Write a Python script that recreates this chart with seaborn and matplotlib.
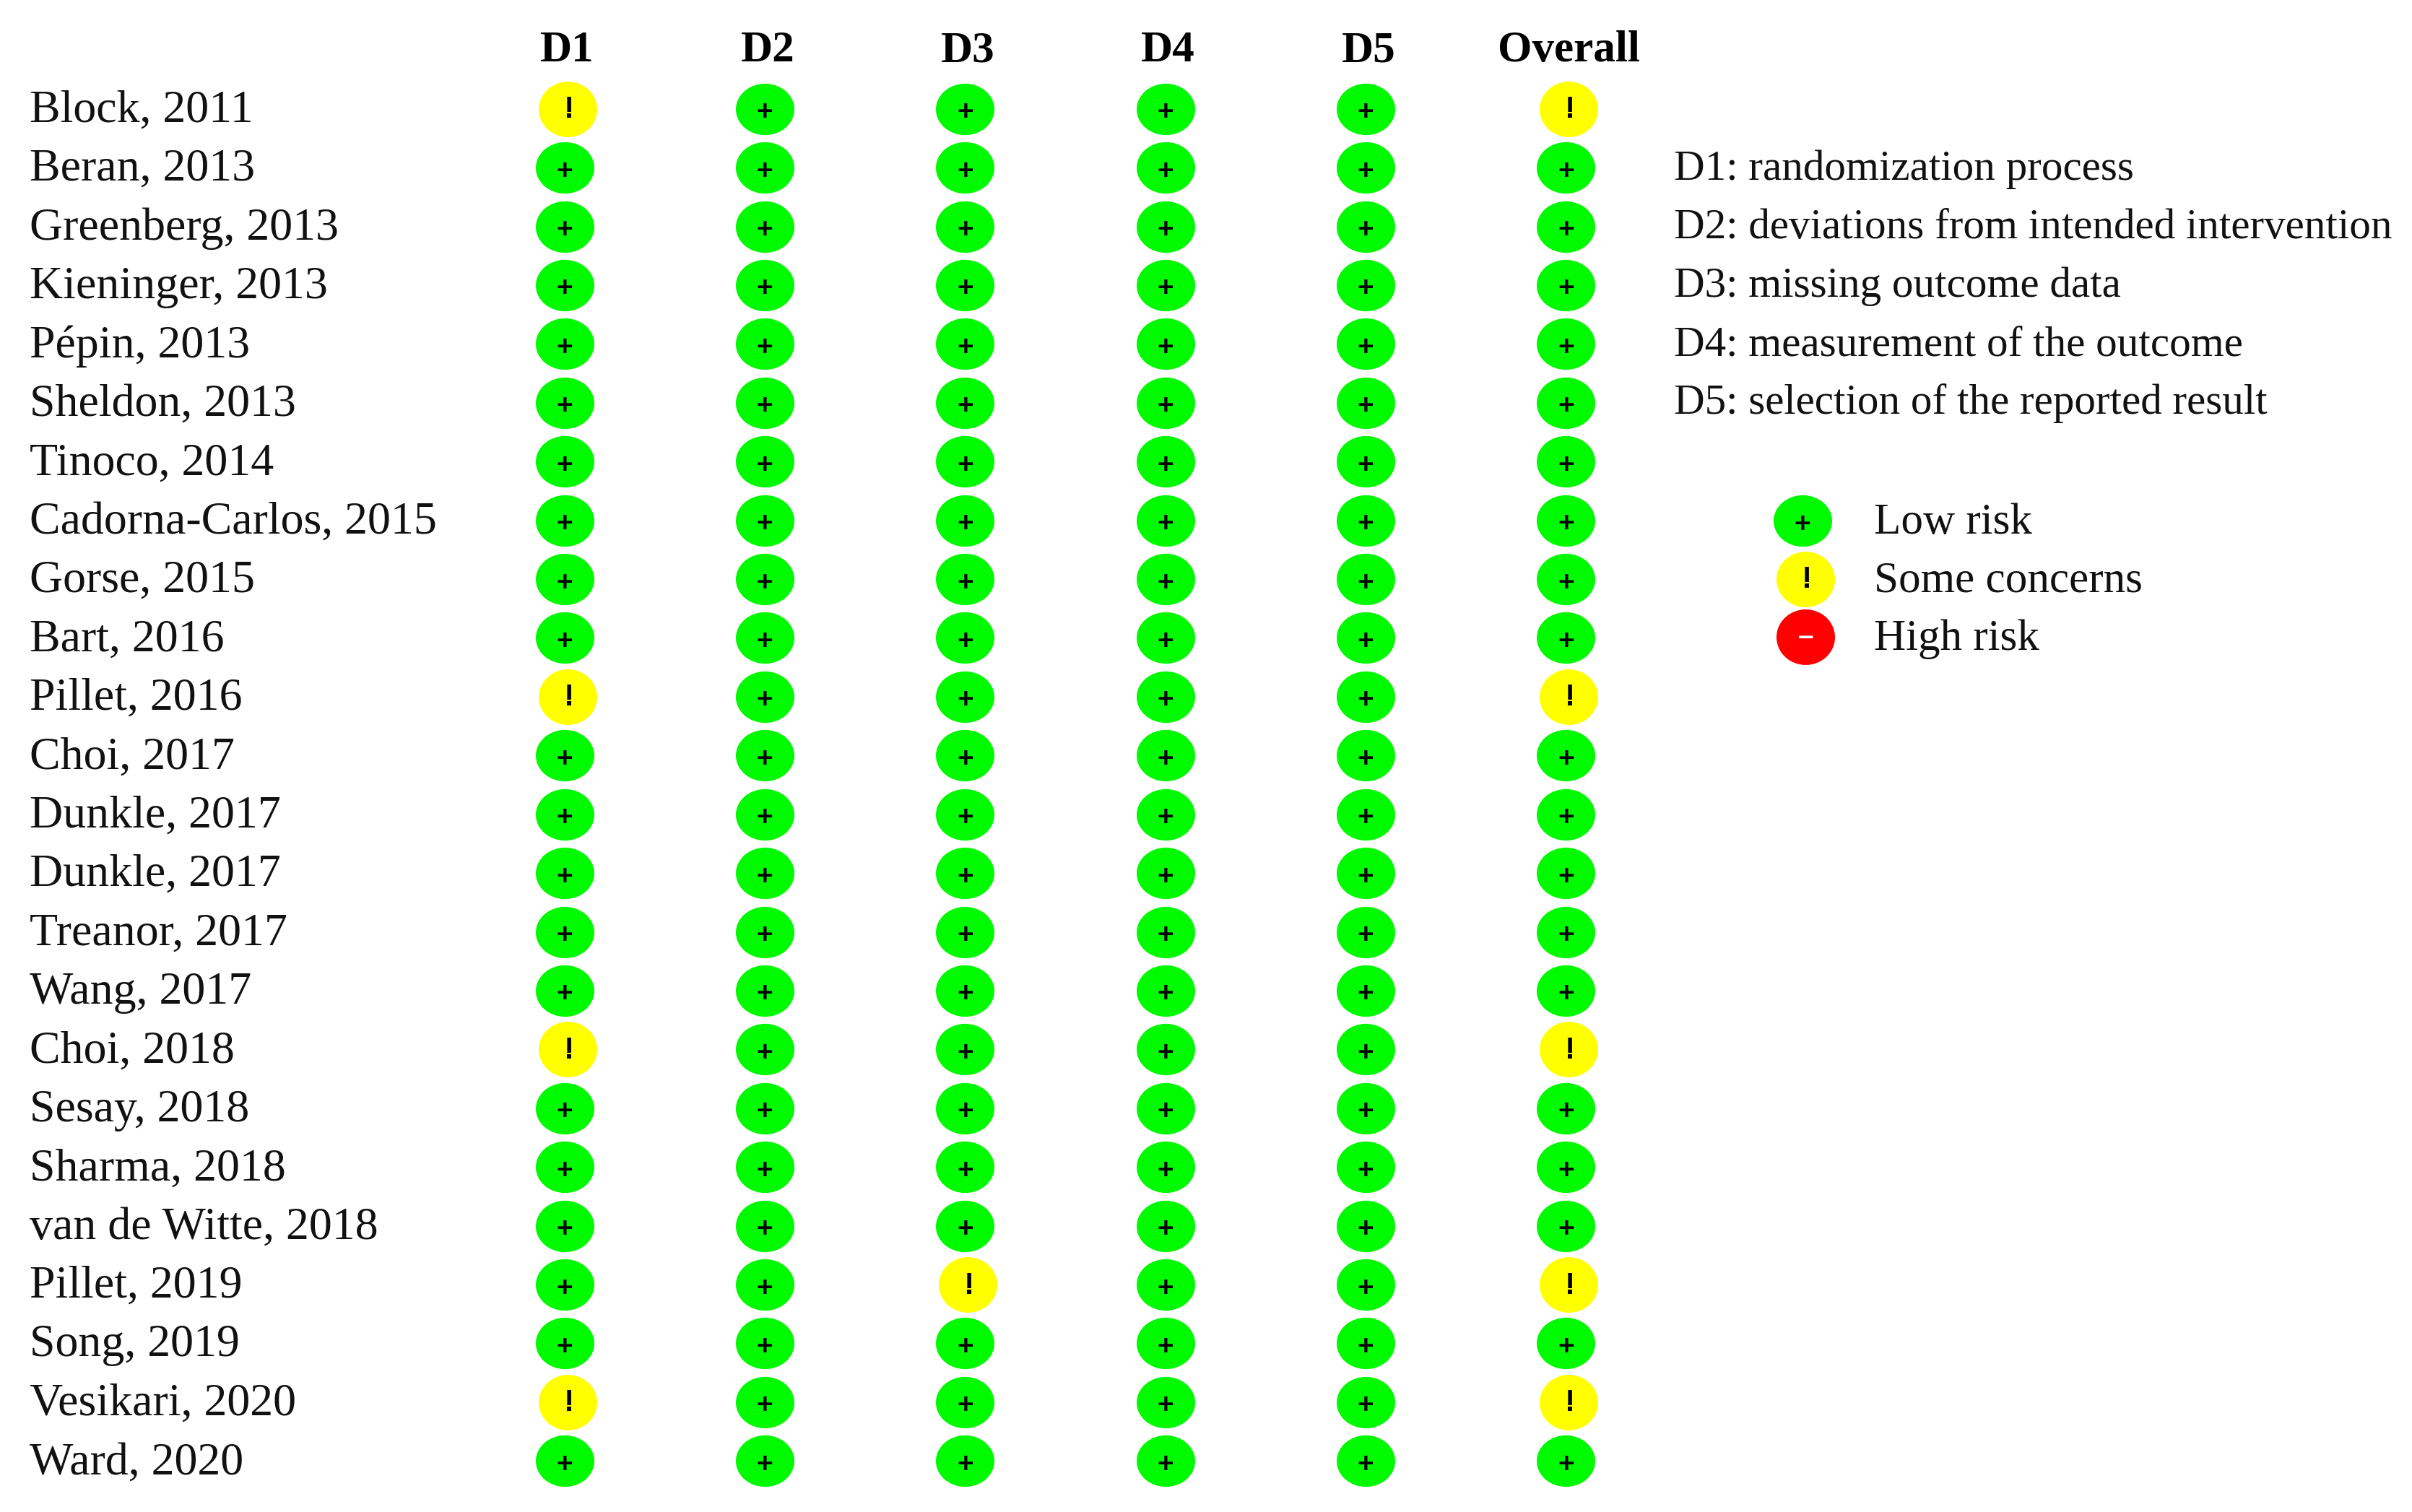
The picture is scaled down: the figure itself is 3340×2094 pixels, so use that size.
import numpy as np
import pandas as pd
import matplotlib
matplotlib.use("Agg")
import matplotlib.pyplot as plt
import seaborn as sns
from matplotlib.path import Path
from matplotlib.transforms import Affine2D

studies = ["Block, 2011", "Beran, 2013", "Greenberg, 2013", "Kieninger, 2013", "Pépin, 2013",
           "Sheldon, 2013", "Tinoco, 2014", "Cadorna-Carlos, 2015", "Gorse, 2015", "Bart, 2016",
           "Pillet, 2016", "Choi, 2017", "Dunkle, 2017", "Dunkle, 2017", "Treanor, 2017",
           "Wang, 2017", "Choi, 2018", "Sesay, 2018", "Sharma, 2018", "van de Witte, 2018",
           "Pillet, 2019", "Song, 2019", "Vesikari, 2020", "Ward, 2020"]
domains = ["D1", "D2", "D3", "D4", "D5", "Overall"]

L, S = "Low risk", "Some concerns"
d1 = [S, L, L, L, L, L, L, L, L, L, S, L, L, L, L, L, S, L, L, L, L, L, S, L]
d2 = [L] * 24
d3 = [L, L, L, L, L, L, L, L, L, L, L, L, L, L, L, L, L, L, L, L, S, L, L, L]
d4 = [L] * 24
d5 = [L] * 24
overall = [S, L, L, L, L, L, L, L, L, L, S, L, L, L, L, L, S, L, L, L, S, L, S, L]

key_lines = ["D1: randomization process", "D2: deviations from intended intervention",
             "D3: missing outcome data", "D4: measurement of the outcome",
             "D5: selection of the reported result"]
risk_levels = ["Low risk", "Some concerns", "High risk"]
risk_colors = {"Low risk": "#00FA00", "Some concerns": "#FFFF00", "High risk": "#FF0000"}
risk_signs = {"Low risk": "+", "Some concerns": "!", "High risk": "–"}
sign_colors = {"Low risk": "black", "Some concerns": "black", "High risk": "white"}
# (width scale, height scale, x shift in px) - the source picture was stretched a bit
risk_shape = {"Low risk": (1.0, 0.88, 0), "Some concerns": (1.0, 0.95, 4), "High risk": (1.0, 0.95, 4)}
# sign font size, and sign shift from the dot centre in px
sign_style = {"Low risk": (14, 0, -5.5), "Some concerns": (15.5, 2, -1.5), "High risk": (14, 1, -1)}

W, H = 3340, 2094
sns.set_theme(style="white")
plt.rcParams["font.family"] = ["Liberation Serif", "DejaVu Serif"]
PT = 72 / 200  # points per pixel

df = pd.DataFrame({"study": np.arange(len(studies)), "D1": d1, "D2": d2, "D3": d3,
                   "D4": d4, "D5": d5, "Overall": overall})
df = df.melt(id_vars="study", var_name="domain", value_name="risk")
df["col"] = df["domain"].map(domains.index)


def ellipse(wx, hy):
    verts = Path.unit_circle().vertices * [wx, hy]
    return Path(verts, Path.unit_circle().codes)


def draw_dots(ax, data, x, y, s=850):
    for risk, g in data.groupby("risk"):
        wx, hy, dx = risk_shape[risk]
        size, sx, sy = sign_style[risk]
        shift = ax.transData + Affine2D().translate(dx, 0)
        sns.scatterplot(data=g, x=x, y=y, ax=ax, color=risk_colors[risk], marker=ellipse(wx, hy),
                        s=s, linewidth=0, legend=False, transform=shift)
        for _, row in g.iterrows():
            ax.annotate(risk_signs[risk], (row[x], row[y]), xytext=((dx + sx) * PT, sy * PT),
                        textcoords="offset points", ha="center", va="center", fontsize=size,
                        color=sign_colors[risk], fontweight="bold", family="Liberation Sans")


fig = plt.figure(figsize=(W / 200, H / 200), dpi=200)
fig.patch.set_facecolor("white")

# main grid
ax = fig.add_axes([643 / W, 1 - 2064 / H, (2307 - 643) / W, (2064 - 110) / H])
draw_dots(ax, df, "col", "study")
ax.set_xlim(-0.5, 5.5)
ax.set_ylim(23.5, -0.5)
ax.set_xlabel("")
ax.set_ylabel("")
ax.xaxis.tick_top()
ax.set_xticks(range(len(domains)), domains, fontweight="bold", fontsize=22, color="black")
ax.set_yticks(range(len(studies)), studies, ha="left", fontsize=23, color="#111111")
ax.tick_params(axis="x", length=0, pad=12 * PT)
ax.tick_params(axis="y", length=0, pad=(643 - 41) * PT)
for lab in ax.get_yticklabels():
    lab.set_transform(lab.get_transform() + Affine2D().translate(0, 4))
for lab in ax.get_xticklabels():
    lab.set_transform(lab.get_transform() + Affine2D().translate(4, 0))
sns.despine(ax=ax, left=True, top=True, right=True, bottom=True)

# domain descriptions
for i, line in enumerate(key_lines):
    fig.text(2318 / W, 1 - (235 + 81 * i) / H, line, ha="left", va="center", fontsize=21.3, color="#111111")

# risk legend
key = pd.DataFrame({"x": [0, 0, 0], "row": [0, 1, 2], "risk": risk_levels})
ax2 = fig.add_axes([2436 / W, 1 - 922 / H, 120 / W, 241 / H])
draw_dots(ax2, key, "x", "row")
ax2.set_xlim(-0.5, 0.5)
ax2.set_ylim(2.5, -0.5)
ax2.set_xlabel("")
ax2.set_ylabel("")
ax2.set_xticks([])
ax2.yaxis.tick_right()
ax2.set_yticks(range(3), risk_levels, fontsize=22, color="#111111")
ax2.tick_params(axis="y", length=0, pad=(2595 - 2556) * PT)
for lab in ax2.get_yticklabels():
    lab.set_transform(lab.get_transform() + Affine2D().translate(0, 3))
sns.despine(ax=ax2, left=True, top=True, right=True, bottom=True)

fig.savefig("out.png", dpi=200)
